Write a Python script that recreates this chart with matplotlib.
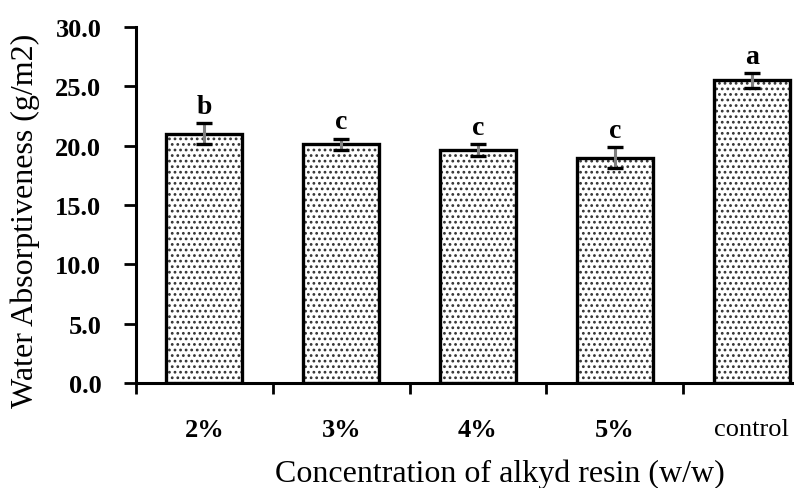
import matplotlib
matplotlib.use('Agg')
import matplotlib.pyplot as plt
import numpy as np

# Water absorptiveness by alkyd resin concentration
categories = ['2%', '3%', '4%', '5%', 'control']
means = [21.0, 20.1, 19.6, 19.0, 25.5]
errors = [0.9, 0.5, 0.5, 0.85, 0.65]
letters = ['b', 'c', 'c', 'c', 'a']
yticks = [0.0, 5.0, 10.0, 15.0, 20.0, 25.0, 30.0]

plt.rcParams['font.family'] = ['Liberation Serif', 'DejaVu Serif']
plt.rcParams['hatch.linewidth'] = 1.2
plt.rcParams['hatch.color'] = '#333333'

W, H = 794, 489
fig = plt.figure(figsize=(W / 100, H / 100), dpi=100)
# right category edge runs past the figure border
ax = fig.add_axes([136 / W, 105 / H, (820 - 136) / W, 356 / H])

x = np.arange(len(categories))
# dotted fill first, then the black outline on top
ax.bar(x, means, width=0.555, color='white', hatch='...',
       edgecolor='#333333', linewidth=0, zorder=2)
ax.bar(x, means, width=0.555, color='none', edgecolor='black',
       linewidth=2.4, zorder=3)

eb = ax.errorbar(x, means, yerr=errors, fmt='none', ecolor='#7f7f7f',
                 elinewidth=2.2, capsize=6, capthick=2.4, zorder=4)
for cap in eb[1]:
    cap.set_markeredgecolor('black')

for xi, m, e, lab in zip(x, means, errors, letters):
    ax.annotate(lab, (xi, m + e), xytext=(0, 3), textcoords='offset points',
                ha='center', va='bottom', fontsize=20, fontweight='bold')

ax.set_xlim(-0.5, len(categories) - 0.5)
ax.set_ylim(0, 30)
ax.set_yticks(yticks)
ax.set_yticklabels([f'{v:.1f}' for v in yticks], fontsize=19, fontweight='bold')
ax.set_xticks(x)
ax.set_xticklabels(categories, fontsize=19)
for lbl in ax.get_xticklabels():
    if lbl.get_text() != 'control':
        lbl.set_fontweight('bold')
ax.set_xticks(np.arange(len(categories) + 1) - 0.5, minor=True)

ax.tick_params(axis='y', direction='out', length=9, width=2, pad=16)
ax.tick_params(axis='x', which='major', length=0, pad=25)
ax.tick_params(axis='x', which='minor', direction='out', length=8, width=2)

for side in ['top', 'right']:
    ax.spines[side].set_visible(False)
for side in ['left', 'bottom']:
    ax.spines[side].set_linewidth(2.2)

ax.set_ylabel('Water Absorptiveness (g/m2)', fontsize=23, va='center')
ax.set_xlabel('Concentration of alkyd resin (w/w)', fontsize=23, va='center')
ax.xaxis.set_label_coords((500 - 136) / (820 - 136), -0.253)
ax.yaxis.set_label_coords(-0.162, 0.458)

fig.savefig('out.png', dpi=100, facecolor='white')
